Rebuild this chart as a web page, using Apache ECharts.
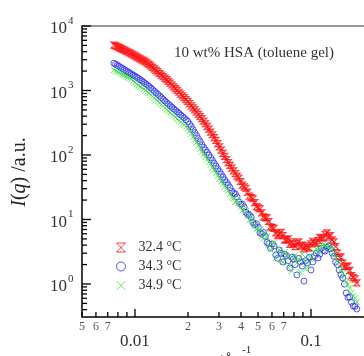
<!DOCTYPE html>
<html><head><meta charset="utf-8">
<script src="https://cdn.jsdelivr.net/npm/echarts@6/dist/echarts.min.js"></script>
<style>html,body{margin:0;padding:0;background:#fff}#c{width:364px;height:356px}</style>
</head><body><div id="c"></div>
<script>
// scattering vector q (1/Å), two interleaved measurement grids
const q = [0.007586,0.007943,0.008318,0.008710,0.009120,0.009550,0.01000,0.010471,0.010965,0.011482,
0.012023,0.012589,0.013183,0.013804,0.014454,0.015136,0.015849,0.016596,0.017378,0.018197,
0.019055,0.019953,0.020893,0.021878,0.022909,0.023988,0.025119,0.026303,0.027542,0.028840,
0.030200,0.031623,0.033113,0.034674,0.036308,0.038019,0.039811,0.041687,0.043652,0.045709,
0.047863,0.050119,0.052481,0.054954,0.057544,0.060256,0.063096,0.066069,0.069183,0.072444,
0.075858,0.079433,0.083176,0.087096,0.091201,0.095499,0.1000,0.10471,0.10965,0.11482,
0.12023,0.12589,0.13183,0.13804,0.14454,0.15136,0.15849,0.16596,0.17378,0.18197];
const qHalf = [0.0077625,0.0081283,0.0085114,0.0089125,0.0093325,0.0097724,0.010233,0.010715,0.011220,0.011749,
0.012303,0.012882,0.013490,0.014125,0.014791,0.015488,0.016218,0.016982,0.017783,0.018621,
0.019498,0.020417,0.021380,0.022387,0.023442,0.024547,0.025704,0.026915,0.028184,0.029512,
0.030903,0.032359,0.033884,0.035481,0.037154,0.038905,0.040738,0.042658,0.044668,0.046774,
0.048978,0.051286,0.053703,0.056234,0.058884,0.061660,0.064565,0.067608,0.070795,0.074131,
0.077625,0.081283,0.085114,0.089125,0.093325,0.097724,0.10233,0.10715,0.11220,0.11749,
0.12303,0.12882,0.13490,0.14125,0.14791,0.15488,0.16218,0.16982,0.17783];

// I(q) at 32.4 °C
const I_324 = [5070,4775,4495,4217,3953,3692,3439,3214,2992,2786,
2548,2290,2050,1835,1643,1470,1297,1140,1004,879,
773,675,579,499,426,366,305,251,206,168,
134,106,84.9,68.8,56.6,46.9,38.8,32.1,26.6,21.9,
18.2,15.1,12.7,10.7,9.3,7.49,6.2,5.92,5.6,4.86,
4.1,4.18,4.3,3.86,3.5,3.72,4.2,4.35,4.72,5.16,
5.9,5.32,4.84,3.8,2.62,2.1,1.88,1.62,1.26,1.04];
const I_324Half = [4920,4633,4354,4083,3820,3563,3325,3101,2887,2664,
2416,2167,1940,1736,1554,1381,1216,1070,939,824,
722,625,538,461,395,334,277,227,186,150,
119,94.9,76.4,62.4,51.5,44,34,30.5,23,21,
15.8,14.6,11.0,10.6,7.7,7.3,5.6,6.3,4.8,5.0,
4.5,3.8,4.5,4.0,3.9,3.6,4.6,4.3,5.3,5.2,
6.2,5.6,4.5,3.0,2.6,1.85,1.9,1.35,1.2];
// I(q) at 34.3 °C
const I_343 = [2651,2459,2273,2109,1943,1802,1666,1540,1404,1279,
1158,1033,921,822,730,649,581,520,468,417,
375,331,274,222,180,144,120,100,82.5,67.5,
55.3,45.4,37.5,31.2,25.8,22.3,17.2,15.6,12.0,10.9,
8.3,7.6,6.0,5.5,4.2,4.17,2.82,3.37,2.19,2.72,
1.77,2.44,1.38,2.19,1.11,2.12,1.65,2.72,2.53,3.61,
3.25,3.88,3.02,2.19,1.65,1.24,0.725,0.629,0.456,0.410];
const I_343Half = [2553,2364,2189,2024,1871,1733,1602,1470,1340,1217,
1094,975,870,775,688,614,550,493,442,395,
352,301,247,200,161,131,110,90.8,74.6,61.1,
50.1,41.3,34.2,27.5,24.8,18.8,17.3,13.0,11.9,9.0,
8.6,6.2,6.3,4.4,3.6,3.9,2.5,3.0,2.9,2.3,
2.6,2.0,2.5,1.9,2.3,2.6,2.2,3.0,2.9,3.3,
3.7,3.5,2.7,2.0,1.4,1.0,0.62,0.52,0.45];
// I(q) at 34.9 °C
const I_349 = [2079,1949,1828,1715,1608,1508,1330,1200,1097,1000,
905,807,720,642,571,506,453,405,364,325,
292,258,213,173,140,112,93.1,77.9,64.0,52.6,
43.1,35.5,29.7,24.8,21.2,19.4,15.6,14.5,11.3,10.2,
7.93,7.38,5.55,6.18,4.02,4.17,2.53,3.37,2.19,2.82,
1.90,2.53,2.12,1.53,2.36,1.90,2.53,3.13,3.37,3.75,
4.02,3.61,3.37,2.53,1.90,1.48,1.07,0.867,0.652,0.526];
const I_349Half = [2013,1888,1771,1661,1557,1416,1263,1147,1047,951,
855,762,680,605,538,479,428,384,344,308,
274,234,192,156,125,102,85.2,70.6,58.0,47.6,
39.1,32.5,28,22,18.5,18,13.8,13.5,9.8,9.6,
7.0,7.0,5.0,5.4,3.4,4.4,3.2,2.3,3.1,2.6,
1.6,2.8,2.4,2.9,1.7,2.7,2.4,3.5,3.2,4.1,
3.9,3.8,3.0,2.3,1.6,1.3,0.98,0.72,0.6];

const seriesNames = ['32.4 °C','34.3 °C','34.9 °C'];
const xMajorTicks = [0.01, 0.1];
const xMajorLabels = ['0.01', '0.1'];
const xMinorTicks = [0.005,0.006,0.007,0.008,0.009,0.02,0.03,0.04,0.05,0.06,0.07,0.08,0.09];
const xMinorLabels = ['5','6','7','','','2','3','4','5','6','7','',''];
const yMajorTicks = [1, 10, 100, 1000, 10000];
const yMajorExp = ['0','1','2','3','4'];
const yMinorTicks = [0.4,0.5,0.6,0.7,0.8,0.9,2,3,4,5,6,7,8,9,20,30,40,50,60,70,80,90,
200,300,400,500,600,700,800,900,2000,3000,4000,5000,6000,7000,8000,9000];

const X_MIN = 0.005, X_MAX = 0.2, Y_MIN = 0.3076, Y_MAX = 10000;
const FONT = '"Liberation Serif", "DejaVu Serif", serif';

const HOURGLASS = 'path://M0,0L10,0L0,10L10,10Z';
const CROSS = 'path://M0,0L10,10M10,0L0,10';
const RED = '#ff1010', BLUE = '#2626ff', GREEN = '#3ee03e';

function pairs(xs, ys){ return xs.map((v,i)=>[v, ys[i]]); }

function xTickRender(len, labels, fontSize, color, dy){
  return function(params, api){
    const p = api.coord([api.value(0), api.value(1)]);
    const lab = labels[params.dataIndex];
    const children = [{type:'line', shape:{x1:p[0], y1:p[1], x2:p[0], y2:p[1]-len},
      style:{stroke:'#000', lineWidth:1.3}}];
    if (lab) children.push({type:'text', x:p[0], y:p[1]+dy,
      style:{text:lab, fill:color, font: fontSize+'px '+FONT, align:'center', verticalAlign:'middle'}});
    return {type:'group', children};
  };
}
function yTickRender(len, withLabel){
  return function(params, api){
    const p = api.coord([api.value(0), api.value(1)]);
    const children = [{type:'line', shape:{x1:p[0], y1:p[1], x2:p[0]+len, y2:p[1]},
      style:{stroke:'#000', lineWidth:1.3}}];
    if (withLabel){
      children.push({type:'text', x:p[0]-15, y:p[1]+3,
        style:{text:'10', fill:'#333', font:'17px '+FONT, align:'right', verticalAlign:'middle'}});
      children.push({type:'text', x:p[0]-14, y:p[1]-5,
        style:{text:yMajorExp[params.dataIndex], fill:'#333', font:'11px '+FONT, align:'left', verticalAlign:'middle'}});
    }
    return {type:'group', children};
  };
}
function tickSeries(data, render){
  return {type:'custom', coordinateSystem:'cartesian2d', clip:false, silent:true,
    data, renderItem: render, z: 10};
}

const chart = echarts.init(document.getElementById('c'), null, {renderer:'canvas'});
chart.setOption({
  animation:false,
  backgroundColor:'#fff',
  grid:{left:82, top:26, width:290, height:291, containLabel:false},
  xAxis:[
    {type:'log', min:X_MIN, max:X_MAX, position:'bottom',
     axisLine:{show:true, onZero:false, lineStyle:{color:'#000', width:1.5}},
     axisTick:{show:false}, axisLabel:{show:false}, splitLine:{show:false}, minorTick:{show:false}},
    {type:'log', min:X_MIN, max:X_MAX, position:'top',
     axisLine:{show:true, onZero:false, lineStyle:{color:'#777', width:1.5}},
     axisTick:{show:false}, axisLabel:{show:false}, splitLine:{show:false}}
  ],
  yAxis:{type:'log', min:Y_MIN, max:Y_MAX,
     axisLine:{show:true, onZero:false, lineStyle:{color:'#000', width:1.5}},
     axisTick:{show:false}, axisLabel:{show:false}, splitLine:{show:false}},
  legend:{
    orient:'vertical', left:111, top:235, itemWidth:9, itemHeight:9, itemGap:4,
    textStyle:{fontFamily:FONT, fontSize:14, color:'#333', lineHeight:15, padding:[0,0,0,8]},
    data:[
      {name:seriesNames[0], icon:HOURGLASS, itemStyle:{color:'transparent', borderColor:RED, borderWidth:1}},
      {name:seriesNames[1], icon:'circle', itemStyle:{color:'transparent', borderColor:BLUE, borderWidth:1}},
      {name:seriesNames[2], icon:CROSS, itemStyle:{color:'transparent', borderColor:GREEN, borderWidth:1}}
    ]
  },
  title:{text:'10 wt% HSA (toluene gel)', left:249, top:41, textAlign:'center',
    textStyle:{fontFamily:FONT, fontSize:15, fontWeight:'normal', color:'#333'}},
  graphic:[
    {type:'text', x:20, y:172, rotation:Math.PI/2, style:{
      text:'{i|I}({i|q}) /a.u.', font:'20px '+FONT, fill:'#222', align:'center', verticalAlign:'middle',
      rich:{i:{fontStyle:'italic', fontSize:20, fontFamily:FONT}}}},
    {type:'text', x:222, y:362, style:{
      text:'{i|q}/Å', font:'17px '+FONT, fill:'#222', align:'center', verticalAlign:'middle',
      rich:{i:{fontStyle:'italic', fontSize:17, fontFamily:FONT}}}},
    {type:'text', x:242, y:350, style:{text:'-1', font:'11px '+FONT, fill:'#222', align:'left', verticalAlign:'middle'}}
  ],
  series:[
    {name:seriesNames[0], type:'scatter', data:pairs(q, I_324).concat(pairs(qHalf, I_324Half)),
     symbol:HOURGLASS, symbolSize:6,
     itemStyle:{color:'transparent', borderColor:RED, borderWidth:1.2}},
    {name:seriesNames[1], type:'scatter', data:pairs(q, I_343).concat(pairs(qHalf, I_343Half)),
     symbol:'circle', symbolSize:6,
     itemStyle:{color:'transparent', borderColor:BLUE, borderWidth:1}},
    {name:seriesNames[2], type:'scatter', data:pairs(q, I_349).concat(pairs(qHalf, I_349Half)),
     symbol:CROSS, symbolSize:6,
     itemStyle:{color:'transparent', borderColor:GREEN, borderWidth:1}},
    tickSeries(xMinorTicks.map(v=>[v, Y_MIN]), xTickRender(5, xMinorLabels, 12, '#555', 10)),
    tickSeries(xMajorTicks.map(v=>[v, Y_MIN]), xTickRender(8, xMajorLabels, 17, '#333', 25)),
    tickSeries(yMinorTicks.map(v=>[X_MIN, v]), yTickRender(5, false)),
    tickSeries(yMajorTicks.map(v=>[X_MIN, v]), yTickRender(9, true))
  ]
});
</script>
</body></html>
